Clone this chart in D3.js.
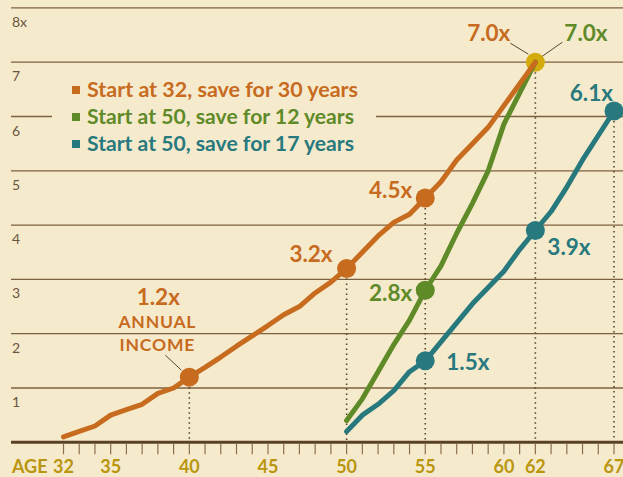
<!DOCTYPE html>
<html><head><meta charset="utf-8">
<script src="https://cdn.jsdelivr.net/npm/d3@7"></script>
<style>
html,body{margin:0;padding:0;background:#f6eacd;}
svg{display:block;}
text{font-family:Lato,"Open Sans",sans-serif;}
</style></head>
<body><svg id="c" width="623" height="477"></svg>
<script>
// ---- data ----
const agesOrange = [32,33,34,35,36,37,38,39,40,41,42,43,44,45,46,47,48,49,50,51,52,53,54,55,56,57,58,59,60,61,62];
const valOrange  = [0.1,0.2,0.3,0.5,0.6,0.7,0.9,1.0,1.2,1.38,1.57,1.77,1.96,2.15,2.35,2.5,2.75,2.95,3.2,3.5,3.8,4.05,4.2,4.5,4.8,5.2,5.5,5.8,6.2,6.6,7.0];
const agesGreen  = [50,51,52,53,54,55,56,57,58,59,60,61,62];
const valGreen   = [0.4,0.8,1.3,1.8,2.25,2.8,3.25,3.85,4.4,5.0,5.86,6.43,7.0];
const agesTeal   = [50,51,52,53,54,55,56,57,58,59,60,61,62,63,64,65,66,67];
const valTeal    = [0.2,0.5,0.7,0.95,1.3,1.5,1.85,2.2,2.55,2.85,3.15,3.55,3.9,4.25,4.7,5.2,5.65,6.1];
const yTicks     = [1,2,3,4,5,6,7,8];
const yTickLabels= ["1","2","3","4","5","6","7","8x"];
const xTickAges  = [32,35,40,45,50,55,60,62,67];
const legendLabels = ["Start at 32, save for 30 years","Start at 50, save for 12 years","Start at 50, save for 17 years"];
const colors = {orange:"#c76b1e", green:"#5f8a28", teal:"#28797e", gold:"#d4ab0c"};

const svg = d3.select("#c");
const W = 623, H = 477;
const x = d3.scaleLinear().domain([32,67]).range([63.5,614]);
const y = d3.scaleLinear().domain([0,8]).range([442.3,7.9]);

// gridlines
svg.append("g").selectAll("line").data(yTicks).join("line")
  .attr("x1",11).attr("x2",W).attr("y1",d=>y(d)).attr("y2",d=>y(d))
  .attr("stroke","#7d6040").attr("stroke-width",1.3);
svg.append("g").selectAll("text").data(yTicks).join("text")
  .attr("x",12).attr("y",d=>y(d)+19).attr("font-size",14).attr("fill","#6a5640")
  .text((d,i)=>yTickLabels[i]);

// legend box (covers gridline)
svg.append("rect").attr("x",52).attr("y",72).attr("width",324).attr("height",86).attr("fill","#f6eacd");
const legCols = [colors.orange, colors.green, colors.teal];
const legWidths = [271, 267, 267];
const leg = svg.append("g");
legendLabels.forEach((t,i)=>{
  const cy = 90 + i*27;
  leg.append("rect").attr("x",72).attr("y",cy-4).attr("width",8).attr("height",8).attr("fill",legCols[i]);
  leg.append("text").attr("x",87).attr("y",cy+7).attr("font-size",21).attr("font-weight",700)
    .attr("textLength",legWidths[i]).attr("lengthAdjust","spacingAndGlyphs")
    .attr("fill",legCols[i]).text(t);
});

// dotted verticals
const dotted = [[40,1.2],[50,3.2],[55,4.5],[62,7.0],[67,6.1]];
svg.append("g").selectAll("line").data(dotted).join("line")
  .attr("x1",d=>x(d[0])).attr("x2",d=>x(d[0])).attr("y1",d=>y(d[1])+10).attr("y2",y(0)-2)
  .attr("stroke","#5a4530").attr("stroke-width",1.6).attr("stroke-dasharray","1.5,3.5");

// axis
svg.append("line").attr("x1",11).attr("x2",W).attr("y1",y(0)).attr("y2",y(0))
  .attr("stroke","#5b4124").attr("stroke-width",3);
const allAges = d3.range(32,68);
svg.append("g").selectAll("line").data(allAges).join("line")
  .attr("x1",d=>x(d)).attr("x2",d=>x(d)).attr("y1",y(0)+1).attr("y2",y(0)+12)
  .attr("stroke","#8a6e4c").attr("stroke-width",1.2);
svg.append("text").attr("x",12).attr("y",473).attr("font-size",18).attr("font-weight",700).attr("fill","#b8960e").text("AGE");
svg.append("g").selectAll("text").data(xTickAges).join("text")
  .attr("x",d=>x(d)).attr("y",473).attr("text-anchor","middle").attr("font-size",18).attr("font-weight",700)
  .attr("fill","#b8960e").text(d=>d);

// gold dot at 62
svg.append("circle").attr("cx",x(62)).attr("cy",y(7)).attr("r",9.5).attr("fill",colors.gold);

// lines
const lineGen = d3.line().x(d=>x(d[0])).y(d=>y(d[1])).curve(d3.curveLinear);
function drawSeries(ages, vals, col){
  svg.append("path").datum(ages.map((a,i)=>[a,vals[i]]))
    .attr("d",lineGen).attr("fill","none").attr("stroke",col).attr("stroke-width",5)
    .attr("stroke-linecap","round").attr("stroke-linejoin","round");
}
drawSeries(agesTeal, valTeal, colors.teal);
drawSeries(agesGreen, valGreen, colors.green);
drawSeries(agesOrange, valOrange, colors.orange);

// dots
const dots = [[40,1.2,colors.orange],[50,3.2,colors.orange],[55,4.5,colors.orange],
              [55,2.8,colors.green],[55,1.5,colors.teal],[62,3.9,colors.teal],[67,6.1,colors.teal]];
svg.append("g").selectAll("circle").data(dots).join("circle")
  .attr("cx",d=>x(d[0])).attr("cy",d=>y(d[1])).attr("r",9.5).attr("fill",d=>d[2]);

// labels
const lab = (t,xx,yy,col,anchor,size)=>svg.append("text").attr("x",xx).attr("y",yy)
  .attr("text-anchor",anchor||"middle").attr("font-size",size||22.5).attr("font-weight",700).attr("fill",col).text(t);
lab("1.2x", x(40)-31, y(1.2)-72, colors.orange);
lab("ANNUAL", x(40)-32, y(1.2)-49, colors.orange, "middle", 17.5).attr("letter-spacing",0.8);
lab("INCOME", x(40)-32, y(1.2)-26, colors.orange, "middle", 17.5).attr("letter-spacing",0.8);
svg.append("line").attr("x1",x(40)-24).attr("y1",y(1.2)-22).attr("x2",x(40)-8).attr("y2",y(1.2)-7)
  .attr("stroke","#5a4530").attr("stroke-width",1);
lab("3.2x", x(50)-14, y(3.2)-7, colors.orange, "end");
lab("4.5x", x(55)-13, y(4.5), colors.orange, "end");
lab("2.8x", x(55)-13, y(2.8)+11, colors.green, "end");
lab("1.5x", x(55)+21, y(1.5)+9, colors.teal, "start");
lab("3.9x", x(62)+12, y(3.9)+24, colors.teal, "start");
lab("6.1x", x(67)-1, y(6.1)-10, colors.teal, "end");
lab("7.0x", x(62)-25, y(7)-21, colors.orange, "end");
lab("7.0x", x(62)+29, y(7)-21, colors.green, "start");
svg.append("line").attr("x1",x(62)-25).attr("y1",y(7)-19).attr("x2",x(62)-7).attr("y2",y(7)-8)
  .attr("stroke","#5a4530").attr("stroke-width",1);
svg.append("line").attr("x1",x(62)+27).attr("y1",y(7)-20).attr("x2",x(62)+7).attr("y2",y(7)-6)
  .attr("stroke","#5a4530").attr("stroke-width",1);
</script></body></html>
